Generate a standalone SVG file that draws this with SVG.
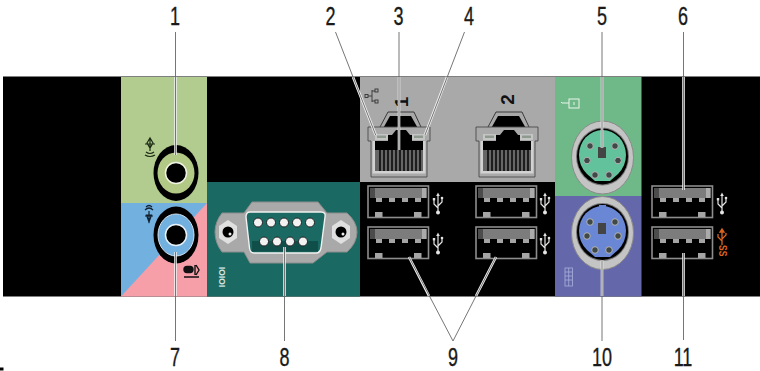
<svg xmlns="http://www.w3.org/2000/svg" width="760" height="371" viewBox="0 0 760 371">
<style>
.num{font-family:"Liberation Sans",Arial,sans-serif;font-size:25px;fill:#1a1a1a;text-anchor:middle;stroke:#1a1a1a;stroke-width:.35}
.halo{fill:none;stroke:#efefef;stroke-width:2.6}
.lead{fill:none;stroke:#666;stroke-width:.9}
.pin{fill:#3f4a48;stroke:#b5b5b5;stroke-width:1}
.usbp{fill:#a5a5a5}
</style>
<defs>
<g id="usb">
<rect x="1" y="1" width="60.5" height="31.5" fill="#000" stroke="#8d8d8d" stroke-width="1.6"/>
<rect x="3" y="3" width="56.5" height="10" fill="#7c7c7c"/>
<rect x="3" y="3" width="5" height="10" fill="#4c4c4c"/><rect x="55" y="3" width="4.5" height="10" fill="#ababab"/>
<rect class="usbp" x="9" y="13" width="6" height="4"/><rect class="usbp" x="22" y="13" width="6" height="4"/><rect class="usbp" x="35" y="13" width="6" height="4"/><rect class="usbp" x="48" y="13" width="6" height="4"/>
<rect class="usbp" x="8" y="27" width="7.500" height="5"/><rect class="usbp" x="47" y="27" width="7.500" height="5"/>
</g>
<g id="usbicon" fill="none" stroke="#e4e4e4" stroke-width="1.200">
<path d="M0 -8V9M0 5L-4 1V-3M0 3L4 -1V-4"/>
<path d="M-1.800 -7L0 -10.500L1.800 -7Z" fill="#e4e4e4" stroke="none"/>
<circle cx="0" cy="9.500" r="2" fill="#e4e4e4" stroke="none"/>
<rect x="-5.200" y="-5" width="2.400" height="2.400" fill="#e4e4e4" stroke="none"/>
<circle cx="4" cy="-5" r="1.300" fill="#e4e4e4" stroke="none"/>
</g>
<g id="rj45">
<path d="M12 15L20 0H46L53 15" fill="#a9a9a9" stroke="#3a3a3a" stroke-width="1"/>
<path d="M13 20L22 4H43L52 20Z" fill="#000"/>
<path d="M0 15H62V29H59V65H3V29H0Z" fill="#a9a9a9" stroke="#4a4a4a" stroke-width=".9"/>
<path d="M4.500 29V61.500H57.500V29" fill="#d2d2d2"/>
<path d="M7 29H20V23H24L28 18H38L42 23H44V29H55V59H7Z" fill="#000"/>
<rect x="7" y="22" width="13" height="6" fill="#c5c5c5"/><rect x="44" y="22" width="13" height="6" fill="#c5c5c5"/>
<rect x="9" y="23.500" width="9" height="2.500" fill="#8d9a8d"/><rect x="46" y="23.500" width="9" height="2.500" fill="#8d9a8d"/>
<rect x="7" y="38" width="48" height="21" fill="#666"/>
<path d="M12 38V59M16 38V59M20 38V59M24 38V59M28 38V59M32 38V59M36 38V59M40 38V59M44 38V59M48 38V59M52 38V59" stroke="#111" stroke-width="1.700"/>
</g>
<g id="ps2">
<ellipse cx="0" cy="0" rx="31" ry="36.500" fill="#c4c4c4" stroke="#8a8a8a" stroke-width="1"/>
<ellipse cx="0" cy="-1" rx="26.500" ry="29" fill="#777"/>
<ellipse cx="0" cy="-1" rx="25.500" ry="28" fill="#000"/>
</g>
</defs>

<g id="panel">
<rect x="3" y="76.500" width="757" height="220" fill="#000"/>
<rect x="121" y="77" width="86" height="126" fill="#b1cc8e"/>
<rect x="121" y="203" width="86" height="93.500" fill="#f69fa8"/>
<path d="M121 203H207L121 296.500Z" fill="#72b0e0"/>
<rect x="207" y="182" width="153" height="114.500" fill="#1a6a63"/>
<rect x="360" y="77" width="195" height="105" fill="#a9a9aa"/>
<rect x="555" y="77" width="86.500" height="119" fill="#6fb988"/>
<rect x="555" y="196" width="86.500" height="100.500" fill="#6468aa"/>
<rect x="0" y="367.500" width="3.500" height="3" fill="#000"/>
</g>

<g id="audio-out">
<ellipse cx="176" cy="173" rx="22.500" ry="28" fill="#000"/>
<ellipse cx="176" cy="173" rx="18.500" ry="20.500" fill="#b1c984"/>
<circle cx="176" cy="173" r="10.500" fill="#000" stroke="#f0f4e4" stroke-width="1.500"/>
<g fill="none" stroke="#1c2a14" stroke-width="1.200"><path d="M150 139V151M145 144H155M147 143L150 138L153 143L150 148Z"/><path d="M146 152Q150 155 154 152M145 155Q150 158 155 155"/></g>
</g>
<g id="audio-in">
<ellipse cx="176" cy="235" rx="22.500" ry="28.500" fill="#000"/>
<ellipse cx="176" cy="235" rx="18" ry="21" fill="#72b0e0" stroke="#cfe2f2" stroke-width="1"/>
<circle cx="176" cy="235" r="10.500" fill="#000" stroke="#e8f2fa" stroke-width="1.500"/>
<g fill="none" stroke="#10202e" stroke-width="1.200"><path d="M146 207Q149 204 152 207M145 210Q149 206 153 210M149 211V223M145 216H153M146.500 215L149 222L151.500 215Z"/></g>
<g fill="none" stroke="#111" stroke-width="1.400"><rect x="184" y="266.500" width="9" height="6" rx="3" fill="#111"/><path d="M195 265V275M184 277H199M196 265L199 270L196 275"/></g>
</g>
<g id="serial">
<path d="M222 213H244L252 202H318L327 213H347Q357 222 357 232Q357 243 347 252H327L313 263H250L244 252H222Q215 243 215 232Q215 222 222 213Z" fill="#a9a9a9" stroke="#8c8c8c"/>
<path d="M250 212H321Q326 212 325 217L321 248Q320 253 316 253H254Q250 253 249.500 248L246 217Q246 212 250 212Z" fill="#1a6a63" stroke="#f1f1f1" stroke-width="1.400"/>
<rect x="252" y="241" width="66" height="10.500" fill="#0f4e49"/>
<g fill="#f2f2f2" stroke="#222" stroke-width="1"><circle cx="258" cy="222.500" r="4.500"/><circle cx="271" cy="222.500" r="4.500"/><circle cx="284" cy="222.500" r="4.500"/><circle cx="297" cy="222.500" r="4.500"/><circle cx="310" cy="222.500" r="4.500"/><circle cx="264" cy="241.500" r="4.500"/><circle cx="277" cy="241.500" r="4.500"/><circle cx="290" cy="241.500" r="4.500"/><circle cx="303" cy="241.500" r="4.500"/></g>
<path d="M228 220L237 226V238L228 244L219 238V226Z" fill="#e0e0e0"/><circle cx="228" cy="232" r="5.500" fill="#000"/><circle cx="230" cy="234" r="1.500" fill="#eee"/>
<path d="M341 220L350 226V238L341 244L332 238V226Z" fill="#e0e0e0"/><circle cx="341" cy="232" r="5.500" fill="#000"/><circle cx="343" cy="234" r="1.500" fill="#eee"/>
<text transform="translate(224.500 277) rotate(-90)" font-family="'Liberation Sans',sans-serif" font-size="8.500" font-weight="bold" fill="#d7e4e2" text-anchor="middle">IOIOI</text>
</g>
<g id="network-1">
<use href="#rj45" x="368" y="112"/>
<g fill="none" stroke="#333" stroke-width=".9"><path d="M372 90V102M372 96H368M372 91H375M372 101H375"/><rect x="375" y="89" width="3" height="3"/><rect x="375" y="100" width="3" height="3"/><rect x="365" y="94.500" width="3" height="3"/></g>
<text transform="translate(407.500 102) rotate(-90)" font-family="'Liberation Sans',sans-serif" font-size="19" font-weight="bold" fill="#111" text-anchor="middle">1</text>
</g>
<g id="network-2">
<use href="#rj45" x="476" y="112"/>
<text transform="translate(514 99.500) rotate(-90)" font-family="'Liberation Sans',sans-serif" font-size="19" font-weight="bold" fill="#111" text-anchor="middle">2</text>
</g>
<g id="usb-a"><use href="#usb" x="367" y="185"/><use href="#usbicon" x="438" y="203"/></g>
<g id="usb-b"><use href="#usb" x="367" y="226"/><use href="#usbicon" x="438" y="243"/></g>
<g id="usb-c"><use href="#usb" x="475" y="185"/><use href="#usbicon" x="545" y="203"/></g>
<g id="usb-d"><use href="#usb" x="475" y="226"/><use href="#usbicon" x="545" y="243"/></g>
<g id="usb-e"><use href="#usb" x="651" y="185"/><use href="#usbicon" x="722" y="203"/></g>
<g id="usb-ss">
<use href="#usb" x="651" y="226"/>
<g fill="none" stroke="#d9641f" stroke-width="1.300"><path d="M722 231V245M722 241L718 237V234M722 239L726 235V233"/><path d="M720 232L722 229L724 232Z" fill="#d9641f"/></g>
<text transform="translate(718.500 245) rotate(90) scale(.85 1.100)" font-family="'Liberation Sans',sans-serif" font-size="10" font-weight="bold" fill="#d9641f">SS</text>
</g>
<g id="mouse">
<use href="#ps2" x="602.500" y="157.500"/>
<path d="M579 155A23.500 25 0 0 1 626 155Q626 166 618 174L610 181H595L587 174Q579 166 579 155Z" fill="#62c29c"/>
<rect x="598" y="147" width="8" height="11" fill="#444"/>
<g class="pin"><circle cx="590" cy="146" r="3.300"/><circle cx="615" cy="146" r="3.300"/><circle cx="587" cy="160.500" r="3.300"/><circle cx="618" cy="160.500" r="3.300"/><circle cx="595" cy="175" r="3.300"/><circle cx="609" cy="175" r="3.300"/></g>
<g fill="none" stroke="#eaf5ee" stroke-width="1"><rect x="569" y="99" width="10" height="9"/><path d="M569 103H562L561 102M574 102V105"/></g>
</g>
<g id="keyboard">
<use href="#ps2" x="602.500" y="233"/>
<path d="M579 231A23.500 25 0 0 1 626 231Q626 242 618 250L610 257H595L587 250Q579 242 579 231Z" fill="#6a87d6"/>
<rect x="598" y="223" width="8" height="11" fill="#444"/>
<rect x="599" y="205" width="7" height="3.500" fill="#6a87d6"/>
<g class="pin"><circle cx="590" cy="222" r="3.300"/><circle cx="615" cy="222" r="3.300"/><circle cx="587" cy="236" r="3.300"/><circle cx="618" cy="236" r="3.300"/><circle cx="595" cy="250" r="3.300"/><circle cx="609" cy="250" r="3.300"/></g>
<g fill="none" stroke="#aab0dc" stroke-width=".8"><rect x="565" y="268" width="7.500" height="18"/><path d="M568.700 268V286M565 272H572.500M565 276H572.500M565 280H572.500"/></g>
</g>

<g id="connectors">
<g class="halo">
<path d="M175.500 77V155M399 77V150M602 77V148M683.500 77V190M175.500 252V296M284.500 247V296M602 260V296M683.500 253V296M353 77L375.700 135M447 77L425 135M409 257L429 296M496 257L476 296"/>
</g>
<g class="lead">
<path d="M175.500 32V155M335.500 32L375.700 135M399 32V150M464.500 32L425 135M602 32V148M683.500 32V190M175.500 252V341M284.500 247V341M602 260V341M683.500 253V340M409 257L453 341L496 257"/>
</g>
</g>

<g id="labels">
<text class="num" transform="translate(175 25.300) scale(.72 1)">1</text>
<text class="num" transform="translate(330.500 25.300) scale(.72 1)">2</text>
<text class="num" transform="translate(398.500 25.300) scale(.72 1)">3</text>
<text class="num" transform="translate(469 25.300) scale(.72 1)">4</text>
<text class="num" transform="translate(602 25.300) scale(.72 1)">5</text>
<text class="num" transform="translate(683 25.300) scale(.72 1)">6</text>
<text class="num" transform="translate(175 366) scale(.72 1)">7</text>
<text class="num" transform="translate(284.500 366) scale(.72 1)">8</text>
<text class="num" transform="translate(453 366) scale(.72 1)">9</text>
<text class="num" transform="translate(602 366) scale(.72 1)">10</text>
<text class="num" transform="translate(683 366) scale(.72 1)">11</text>
</g>
</svg>
